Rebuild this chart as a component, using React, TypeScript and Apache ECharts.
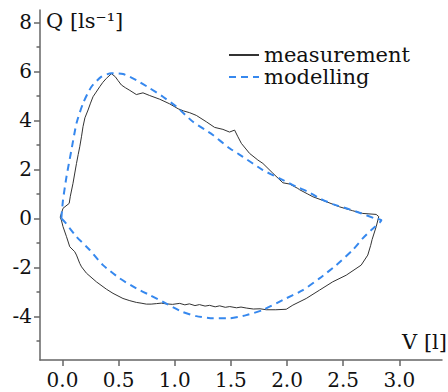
import React, { useEffect, useRef } from "react";
import * as echarts from "echarts";

const measurementV = [
  -0.02, 0.005, 0.06, 0.07, 0.094, 0.11, 0.125, 0.14, 0.154, 0.17, 0.183, 0.2, 0.228, 0.25, 0.272, 0.3, 0.332, 0.36, 0.391, 0.436,
  0.47, 0.495, 0.525, 0.56, 0.6, 0.658, 0.717, 0.777, 0.866, 0.955, 1.03, 1.08, 1.133, 1.192, 1.281, 1.355, 1.429, 1.488, 1.533, 1.56,
  1.593, 1.666, 1.74, 1.785, 1.874, 1.963, 2.022, 2.096, 2.111, 2.185, 2.23, 2.349, 2.467, 2.585, 2.674, 2.794, 2.817,
  2.794, 2.758, 2.745, 2.719, 2.66, 2.527, 2.407, 2.289, 2.171, 2.052, 1.993, 1.9, 1.815, 1.76, 1.7, 1.637, 1.59, 1.55, 1.49, 1.45,
  1.4, 1.36, 1.31, 1.27, 1.22, 1.18, 1.13, 1.09, 1.044, 0.98, 0.925, 0.88, 0.836, 0.79, 0.747, 0.7, 0.658, 0.6, 0.539, 0.45, 0.391,
  0.302, 0.214, 0.17, 0.154, 0.125, 0.109, 0.065, 0.036, 0.005, -0.01, -0.02,
];
const measurementQ = [
  0.05, 0.41, 0.61, 0.9, 1.43, 1.85, 2.24, 2.6, 2.92, 3.35, 3.74, 4.1, 4.42, 4.7, 4.96, 5.15, 5.37, 5.55, 5.71, 5.9,
  5.78, 5.62, 5.44, 5.33, 5.22, 5.05, 5.12, 5.01, 4.86, 4.67, 4.47, 4.38, 4.31, 4.2, 3.94, 3.71, 3.63, 3.52, 3.6, 3.35,
  3.06, 2.65, 2.38, 2.24, 1.84, 1.45, 1.4, 1.22, 1.17, 0.99, 0.88, 0.68, 0.47, 0.31, 0.2, 0.16, 0.07,
  -0.34, -0.86, -1.1, -1.5, -1.91, -2.32, -2.59, -2.93, -3.27, -3.54, -3.71, -3.73, -3.73, -3.69, -3.7, -3.66, -3.62, -3.65, -3.6, -3.63,
  -3.57, -3.61, -3.55, -3.58, -3.52, -3.56, -3.49, -3.53, -3.47, -3.51, -3.49, -3.46, -3.48, -3.5, -3.5, -3.46, -3.43, -3.36, -3.27, -3.06, -2.89,
  -2.59, -2.24, -1.98, -1.84, -1.5, -1.36, -1.16, -0.75, -0.34, -0.07, 0.05,
];

const modelV = [
  -0.01, 0.005, 0.036, 0.08, 0.125, 0.183, 0.258, 0.347, 0.436, 0.539, 0.658, 0.777, 0.895, 1.014, 1.162, 1.34, 1.488, 1.607,
  1.785, 1.933, 2.082, 2.185, 2.289, 2.407, 2.527, 2.645, 2.779, 2.84,
  2.749, 2.674, 2.585, 2.438, 2.289, 2.141, 1.963, 1.785, 1.637, 1.488, 1.34, 1.192, 1.07, 0.925, 0.777, 0.658, 0.51, 0.361,
  0.243, 0.125, 0.02, -0.01,
];
const modelQ = [
  0.0, 0.75, 1.7, 2.79, 3.88, 4.69, 5.37, 5.78, 5.92, 5.89, 5.64, 5.31, 4.96, 4.56, 3.94, 3.4, 2.86, 2.51,
  1.97, 1.63, 1.29, 1.09, 0.82, 0.58, 0.41, 0.23, 0.0, -0.08,
  -0.48, -0.82, -1.29, -1.91, -2.45, -2.93, -3.33, -3.74, -3.95, -4.08, -4.08, -3.99, -3.82, -3.48, -3.13, -2.86, -2.45, -1.91,
  -1.29, -0.75, -0.14, 0.0,
];

const vTicks = [0, 0.5, 1.0, 1.5, 2.0, 2.5, 3.0];
const qTicks = [-4, -2, 0, 2, 4, 6, 8];
const qMinorTicks = [-5, -3, -1, 1, 3, 5, 7];

const FONT = "DejaVu Serif";

export default function App() {
  const ref = useRef<HTMLDivElement>(null);
  useEffect(() => {
    if (!ref.current) return;
    const chart = echarts.init(ref.current, null, { renderer: "svg" });
    const zip = (a: number[], b: number[]) => a.map((v, i) => [v, b[i]]);
    const axisColor = "#666";
    chart.setOption({
      animation: false,
      grid: { left: 40, top: 10, right: 6, bottom: 32, containLabel: false },
      legend: {
        orient: "vertical",
        left: 223,
        top: 39,
        itemWidth: 30,
        itemHeight: 10,
        itemGap: 0,
        itemStyle: { opacity: 0 },
        textStyle: { fontFamily: FONT, fontSize: 21, color: "#111", lineHeight: 22 },
        data: ["measurement", "modelling"],
      },
      xAxis: {
        type: "value",
        min: -0.2,
        max: 3.38,
        axisLine: { onZero: false, lineStyle: { color: axisColor, width: 1.5 } },
        axisTick: { show: true, customValues: vTicks, length: 6, lineStyle: { color: axisColor, width: 1.5 } },
        axisLabel: {
          customValues: vTicks,
          formatter: (v: number) => v.toFixed(1),
          fontFamily: FONT,
          fontSize: 20,
          color: "#111",
          margin: 10,
        },
        splitLine: { show: false },
      },
      yAxis: [
        {
          type: "value",
          min: -5.78,
          max: 8.5,
          axisLine: { show: true, onZero: false, lineStyle: { color: axisColor, width: 1.5 } },
          axisTick: { show: true, customValues: qTicks, length: 6, lineStyle: { color: axisColor, width: 1.5 } },
          axisLabel: { customValues: qTicks, fontFamily: FONT, fontSize: 20, color: "#111", margin: 8 },
          splitLine: { show: false },
        },
        {
          type: "value",
          position: "left",
          min: -5.78,
          max: 8.5,
          axisLine: { show: false, onZero: false },
          axisTick: { show: true, customValues: qMinorTicks, length: 3.5, lineStyle: { color: axisColor, width: 1.5 } },
          axisLabel: { show: false },
          splitLine: { show: false },
        },
      ],
      series: [
        {
          name: "measurement",
          type: "line",
          data: zip(measurementV, measurementQ),
          symbol: "none",
          lineStyle: { color: "#333", width: 1 },
          itemStyle: { color: "#111" },
        },
        {
          name: "modelling",
          type: "line",
          data: zip(modelV, modelQ),
          symbol: "none",
          smooth: 0.2,
          lineStyle: { color: "#3688ee", width: 2, type: [7, 5] },
          itemStyle: { color: "#3688ee" },
        },
      ],
      graphic: [
        {
          type: "text",
          x: 46,
          y: 21,
          style: { text: "Q [ls⁻¹]", fontFamily: FONT, fontSize: 21, fill: "#111", verticalAlign: "middle", align: "left" },
        },
        {
          type: "text",
          x: 447,
          y: 342,
          style: { text: "V [l]", fontFamily: FONT, fontSize: 21, fill: "#111", verticalAlign: "middle", align: "right" },
        },
      ],
    });
    return () => chart.dispose();
  }, []);
  return <div ref={ref} style={{ position: "absolute", left: 0, top: 0, width: 448, height: 392 }} />;
}
